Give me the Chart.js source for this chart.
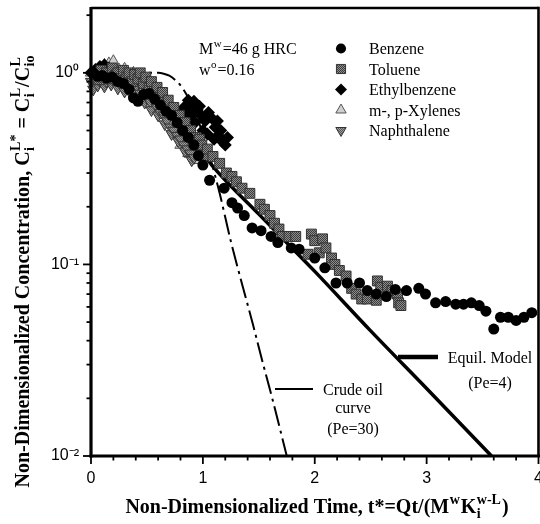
<!DOCTYPE html>
<html><head><meta charset="utf-8">
<style>html,body{margin:0;padding:0;overflow:hidden;background:#fff;width:540px;height:524px}canvas{display:block}</style>
<script src="https://cdn.jsdelivr.net/npm/chart.js@4/dist/chart.umd.min.js"></script>
</head><body><canvas id="c" width="560" height="524"></canvas>
<script>
// ---- data ----
const benzeneT = [0.02,0.06,0.10,0.14,0.19,0.24,0.29,0.34,0.38,0.42,0.47,0.52,0.57,0.62,0.67,0.72,0.77,0.82,0.87,0.92,0.96,
  1.00,1.06,1.19,1.26,1.31,1.37,1.44,1.52,1.61,1.67,1.79,1.86,2.00,2.09,2.19,2.29,2.40,2.47,2.55,2.64,2.72,2.82,2.93,2.99,3.08,3.17,3.26,3.33,3.40,3.47,3.53,3.60,3.66,3.73,3.80,3.87,3.94];
const benzeneC = [1.00,0.96,0.97,0.94,0.95,0.90,0.88,0.82,0.74,0.71,0.77,0.78,0.73,0.68,0.63,0.60,0.55,0.50,0.46,0.42,0.37,
  0.33,0.275,0.25,0.21,0.197,0.18,0.155,0.15,0.14,0.13,0.122,0.12,0.108,0.096,0.080,0.080,0.080,0.073,0.070,0.068,0.074,0.073,0.075,0.070,0.063,0.064,0.062,0.062,0.063,0.061,0.057,0.046,0.053,0.053,0.051,0.053,0.056];

const tolueneT = [0.04,0.07,0.09,0.12,0.14,0.17,0.19,0.22,0.24,0.27,0.29,0.32,0.34,0.37,0.39,0.42,0.44,0.47,0.49,0.52,0.54,0.57,0.59,0.62,0.64,0.67,0.69,0.72,0.74,0.77,0.79,0.82,0.84,0.87,0.89,0.92,0.94,0.97,0.99,1.02,1.04,
  1.09,1.15,1.21,1.26,1.30,1.35,1.42,1.51,1.55,1.60,1.64,1.68,1.71,1.77,1.83,1.94,1.97,2.00,2.04,2.07,2.10,2.15,2.18,2.22,2.28,2.33,2.37,2.42,2.47,2.55,2.56,2.59,2.65,2.69,2.74,2.75,2.77];
const tolueneC = [0.98,0.92,1.03,0.95,1.00,0.93,1.06,0.97,1.00,0.93,1.03,0.95,1.00,0.90,0.98,0.93,1.00,0.88,0.95,0.84,0.90,0.78,0.84,0.74,0.79,0.68,0.72,0.62,0.66,0.56,0.60,0.52,0.55,0.47,0.50,0.43,0.46,0.45,0.42,0.37,0.40,
  0.366,0.337,0.30,0.288,0.27,0.25,0.235,0.206,0.194,0.18,0.164,0.153,0.14,0.14,0.14,0.113,0.144,0.133,0.115,0.136,0.122,0.108,0.10,0.093,0.087,0.075,0.070,0.066,0.066,0.065,0.082,0.076,0.077,0.073,0.070,0.063,0.061];

const ethylT = [0.00,0.04,0.08,0.12,0.16,0.20,0.25,0.30,0.35,0.40,0.45,0.50,0.55,0.60,0.65,0.70,0.75,0.80,0.83,0.85,0.87,0.89,0.90,0.92,0.93,0.95,0.97,0.98,1.00,1.02,1.04,1.05,1.08,1.10,1.11,1.13,1.14,1.16,1.17,1.20,1.22];
const ethylC = [1.00,1.04,1.08,1.10,1.06,1.02,1.00,0.98,0.96,0.92,0.90,0.86,0.82,0.78,0.72,0.68,0.63,0.60,0.66,0.63,0.72,0.68,0.60,0.71,0.55,0.64,0.67,0.60,0.50,0.56,0.48,0.62,0.58,0.45,0.52,0.56,0.47,0.50,0.44,0.42,0.46];

const xyleneT = [0.00,0.02,0.04,0.05,0.07,0.10,0.12,0.13,0.16,0.19,0.20,0.22,0.25,0.28,0.30,0.31,0.34,0.37,0.38,0.40,0.43,0.45,0.46,0.49,0.50,0.52,0.55,0.56,0.58,0.61,0.62,0.64,0.67,0.68,0.70,0.72,0.73,0.76,0.78,0.79,0.80,0.82,0.84,0.85,0.87,0.88,0.90,0.91,0.93,0.94,0.96,0.97,0.99,1.00,1.02,1.03];
const xyleneC = [1.00,0.94,1.02,0.90,0.97,1.06,1.10,0.98,1.12,1.02,1.15,0.96,1.04,0.95,1.05,0.99,0.90,0.94,1.00,0.88,0.90,0.95,0.83,0.86,0.92,0.79,0.77,0.85,0.73,0.70,0.80,0.65,0.62,0.72,0.58,0.66,0.55,0.51,0.60,0.48,0.42,0.46,0.52,0.44,0.38,0.42,0.47,0.40,0.43,0.38,0.35,0.40,0.42,0.37,0.40,0.37];

const naphT = [0.00,0.02,0.03,0.05,0.06,0.08,0.09,0.11,0.12,0.14,0.15,0.17,0.18,0.20,0.21,0.23,0.24,0.26,0.27,0.29,0.30,0.32,0.33,0.35,0.36,0.38,0.39,0.41,0.42,0.44,0.45,0.47,0.48,0.50,0.51,0.53,0.54,0.56,0.57,0.59,0.60,0.62,0.63,0.65,0.66,0.68,0.69,0.71,0.72,0.74,0.75,0.77,0.78,0.80,0.81,0.83,0.84,0.86,0.87,0.89,0.90,0.92,0.93,0.96];
const naphC = [0.90,0.82,1.00,0.95,0.86,0.91,1.00,0.97,0.85,0.90,1.02,0.95,0.87,0.92,1.00,0.97,0.83,0.88,0.98,0.93,0.80,0.86,0.95,0.90,0.77,0.82,0.90,0.85,0.74,0.78,0.86,0.80,0.70,0.74,0.80,0.70,0.64,0.72,0.77,0.66,0.60,0.62,0.70,0.60,0.54,0.56,0.64,0.52,0.48,0.50,0.58,0.47,0.44,0.45,0.53,0.42,0.39,0.40,0.48,0.38,0.35,0.36,0.44,0.40];

const equilT = [0,0.2,0.4,0.6,0.8,0.95,1.08,1.5,2.0,2.5,3.0,3.58];
const equilC = [1.0,0.99,0.93,0.78,0.56,0.42,0.33,0.183,0.092,0.045,0.0225,0.01];

const crudeT = [0,0.2,0.4,0.6,0.65,0.7,0.76,0.82,0.88,0.94,1.0,1.06,1.15,1.25,1.35,1.45,1.53,1.62,1.75];
const crudeC = [1,1,1,1,0.99,0.966,0.91,0.83,0.72,0.6,0.48,0.37,0.235,0.132,0.079,0.048,0.0315,0.02,0.01];

const seriesNames = ['Benzene','Toluene','Ethylbenzene','m-, p-Xylenes','Naphthalene'];
const yMajorVals = [0.01,0.1,1];
const yMajorLabels = ['10\u207B\u00B2','10\u207B\u00B9','10\u2070'];
const yTickVals = [0.01,0.02,0.03,0.04,0.05,0.06,0.07,0.08,0.09,0.1,0.2,0.3,0.4,0.5,0.6,0.7,0.8,0.9,1,2];
const xLabels = ['0','1','2','3','4'];

// ---- styling helpers ----
const cv = document.getElementById('c');
const cx0 = cv.getContext('2d');
function pattern(c1, c2){
  const p = document.createElement('canvas'); p.width = 2; p.height = 2;
  const g = p.getContext('2d'); g.fillStyle = c1; g.fillRect(0,0,2,2);
  g.fillStyle = c2; g.fillRect(0,0,1,1); g.fillRect(1,1,1,1);
  return cx0.createPattern(p, 'repeat');
}
const tolFill = pattern('#8c8c8c','#3c3c3c');
const naphFill = pattern('#9a9a9a','#5a5a5a');
const pts = (T, C) => T.map((t, i) => ({x: t, y: C[i]}));

const styles = [
  {pointStyle:'circle', radius:5.5, rotation:0, bg:'#000', bd:'#000', bw:0},
  {pointStyle:'rect', radius:7, rotation:0, bg:tolFill, bd:'#333', bw:1},
  {pointStyle:'rectRot', radius:6.5, rotation:0, bg:'#000', bd:'#000', bw:0},
  {pointStyle:'triangle', radius:6.5, rotation:0, bg:'#cfcfcf', bd:'#555', bw:1},
  {pointStyle:'triangle', radius:6.5, rotation:180, bg:naphFill, bd:'#333', bw:1}
];
const seriesData = [pts(benzeneT,benzeneC), pts(tolueneT,tolueneC), pts(ethylT,ethylC), pts(xyleneT,xyleneC), pts(naphT,naphC)];
const drawOrder = [1,2,3,5,4];

const datasets = seriesData.map((d, i) => ({
  label: seriesNames[i], data: d, showLine: false, order: drawOrder[i], clip: 10,
  pointStyle: styles[i].pointStyle, pointRadius: styles[i].radius, pointRotation: styles[i].rotation,
  backgroundColor: styles[i].bg, borderColor: styles[i].bd, borderWidth: styles[i].bw, pointHoverRadius: styles[i].radius
}));
datasets.push({label:'Equil. Model', data: pts(equilT, equilC), showLine: true, pointRadius: 0, borderColor:'#000', borderWidth: 3.5, order: 20, cubicInterpolationMode:'monotone', clip: 2});
datasets.push({label:'Crude oil curve', data: pts(crudeT, crudeC), showLine: true, pointRadius: 0, borderColor:'#000', borderWidth: 2, borderDash:[20,5,3,5], order: 19, cubicInterpolationMode:'monotone', clip: 2});

function richWidth(ctx, parts, big, small){
  let w = 0; const ws = [];
  for (const p of parts){
    let ww;
    if (p.t !== undefined){ ctx.font = big; ww = ctx.measureText(p.t).width; }
    else { ctx.font = small; ww = Math.max(p.sub ? ctx.measureText(p.sub).width : 0, p.sup ? ctx.measureText(p.sup).width : 0) + 1.5; }
    ws.push(ww); w += ww;
  }
  return {w, ws};
}
function drawRich(ctx, parts, x, y, big, small, align, supOff, subOff){
  const m = richWidth(ctx, parts, big, small);
  let px = align === 'center' ? x - m.w/2 : x;
  ctx.textAlign = 'left'; ctx.textBaseline = 'alphabetic'; ctx.fillStyle = '#000';
  parts.forEach((p, i) => {
    if (p.t !== undefined){ ctx.font = big; ctx.fillText(p.t, px, y); }
    else { ctx.font = small; if (p.sup) ctx.fillText(p.sup, px + 0.5, y - supOff); if (p.sub) ctx.fillText(p.sub, px + 0.5, y + subOff); }
    px += m.ws[i];
  });
}

const SERIF = '"Liberation Serif", "Times New Roman", serif';
const overlay = {
  id: 'overlay',
  afterDraw(chart){
    const ctx = chart.ctx, a = chart.chartArea, xs = chart.scales.x, ys = chart.scales.y;
    ctx.save();
    ctx.strokeStyle = '#000'; ctx.lineCap = 'butt';
    // ticks from the library's scales
    ctx.lineWidth = 1.8;
    ys.ticks.forEach(t => {
      const py = ys.getPixelForValue(t.value);
      const major = yMajorVals.some(v => Math.abs(v - t.value) < 1e-9);
      ctx.beginPath(); ctx.moveTo(a.left - (major ? 8 : 4.5), py); ctx.lineTo(a.left, py); ctx.stroke();
    });
    xs.ticks.forEach(t => {
      const px = xs.getPixelForValue(t.value);
      const major = Math.abs(t.value - Math.round(t.value)) < 1e-6;
      ctx.beginPath(); ctx.moveTo(px, a.bottom); ctx.lineTo(px, a.bottom + (major ? 8 : 4.5)); ctx.stroke();
    });
    // frame
    ctx.lineWidth = 3.2;
    ctx.beginPath(); ctx.moveTo(a.left, a.top - 1); ctx.lineTo(a.left, a.bottom + 1.5); ctx.stroke();
    ctx.beginPath(); ctx.moveTo(a.left - 1.5, a.bottom); ctx.lineTo(a.right + 1.5, a.bottom); ctx.stroke();
    ctx.lineWidth = 2.6;
    ctx.beginPath(); ctx.moveTo(a.left, a.top); ctx.lineTo(a.right, a.top); ctx.stroke();
    ctx.beginPath(); ctx.moveTo(a.right, a.top - 1.3); ctx.lineTo(a.right, a.bottom); ctx.stroke();

    // axis titles
    const bigB = 'bold 20px ' + SERIF, smallB = 'bold 14px ' + SERIF;
    ctx.save();
    ctx.translate(22, 271); ctx.rotate(-Math.PI/2);
    drawRich(ctx, [{t:'Non-Dimensionalized Concentration, C'},{sub:'i',sup:'L*'},{t:' = C'},{sub:'i',sup:'L'},{t:'/C'},{sub:'io',sup:'L'}],
      0, 7, bigB, smallB, 'center', 9, 5);
    ctx.restore();
    drawRich(ctx, [{t:'Non-Dimensionalized Time, t*=Qt/(M'},{sup:'w'},{t:'K'},{sub:'i',sup:'w-L'},{t:')'}],
      317, 513, bigB, smallB, 'center', 9, 5);

    // annotations
    const big = '16px ' + SERIF, small = '11px ' + SERIF;
    drawRich(ctx, [{t:'M'},{sup:'w'},{t:'=46 g HRC'}], 199, 54, big, small, 'left', 7, 3);
    drawRich(ctx, [{t:'w'},{sup:'o'},{t:'=0.16'}], 199, 75, big, small, 'left', 7, 3);

    // legend
    styles.forEach((s, i) => {
      const by = 54 + i * 20.5;
      ctx.fillStyle = s.bg; ctx.strokeStyle = s.bd; ctx.lineWidth = s.bw;
      Chart.helpers.drawPoint(ctx, {pointStyle: s.pointStyle, radius: s.radius * 0.92, rotation: s.rotation, borderWidth: s.bw}, 341, by - 5.5);
      ctx.fillStyle = '#000'; ctx.font = big; ctx.textAlign = 'left'; ctx.textBaseline = 'alphabetic';
      ctx.fillText(seriesNames[i], 369, by);
    });

    // curve labels
    ctx.strokeStyle = '#000';
    ctx.lineWidth = 4.5; ctx.beginPath(); ctx.moveTo(398, 357); ctx.lineTo(438, 357); ctx.stroke();
    ctx.lineWidth = 2; ctx.beginPath(); ctx.moveTo(275, 389); ctx.lineTo(313, 389); ctx.stroke();
    ctx.fillStyle = '#000'; ctx.font = big; ctx.textAlign = 'center'; ctx.textBaseline = 'alphabetic';
    ctx.fillText('Equil. Model', 490, 362.5);
    ctx.fillText('(Pe=4)', 490, 388);
    ctx.fillText('Crude oil', 353, 394.5);
    ctx.fillText('curve', 353, 413);
    ctx.fillText('(Pe=30)', 353, 434);
    ctx.restore();
  }
};

new Chart(cv, {
  type: 'scatter',
  data: {datasets},
  options: {
    responsive: false, animation: false, devicePixelRatio: 1,
    layout: {padding: {left: 0, top: 6, right: 21.5, bottom: 0}},
    plugins: {legend: {display: false}, tooltip: {enabled: false}, title: {display: false}},
    scales: {
      x: {type: 'linear', position: 'bottom', min: 0, max: 4,
        grid: {display: false, drawTicks: false}, border: {display: false},
        ticks: {stepSize: 0.2, autoSkip: false, maxRotation: 0, padding: 13, color: '#000',
          font: {family: '"Liberation Sans", Arial, sans-serif', size: 16},
          callback: v => Math.abs(v - Math.round(v)) < 1e-6 ? xLabels[Math.round(v)] : ''},
        afterFit: s => { s.height = 68; s.paddingLeft = 0; s.paddingRight = 0; }
      },
      y: {type: 'logarithmic', position: 'left', min: 0.01, max: 2.18,
        grid: {display: false, drawTicks: false}, border: {display: false},
        afterBuildTicks: s => { s.ticks = yTickVals.map(v => ({value: v, major: yMajorVals.includes(v)})); },
        ticks: {autoSkip: false, padding: 12, color: '#000',
          font: {family: '"Liberation Sans", Arial, sans-serif', size: 16},
          callback: v => { const k = yMajorVals.findIndex(m => Math.abs(m - v) < 1e-12); return k >= 0 ? yMajorLabels[k] : ''; }},
        afterFit: s => { s.width = 91; s.paddingTop = 0; s.paddingBottom = 0; }
      }
    }
  },
  plugins: [overlay]
});
</script>
</body></html>
